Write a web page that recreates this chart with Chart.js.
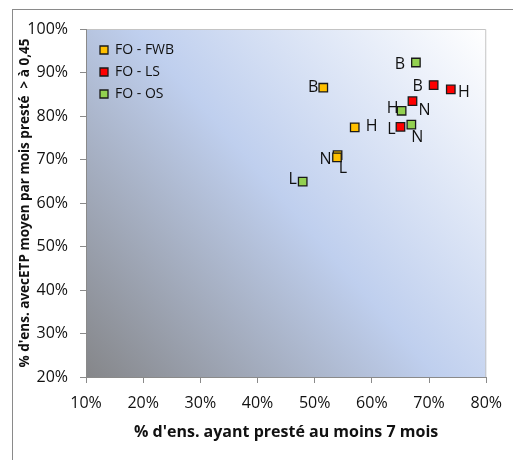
<!DOCTYPE html>
<html><head><meta charset="utf-8">
<script src="https://cdn.jsdelivr.net/npm/chart.js@4/dist/chart.umd.min.js"></script>
<style>
html,body{margin:0;padding:0;background:#fff;}
#wrap{position:relative;width:513px;height:460px;overflow:hidden;}
#frame{position:absolute;left:12px;top:9px;width:600px;height:600px;border-left:1px solid #8a8a8a;border-top:1px solid #8a8a8a;pointer-events:none;}
canvas{position:absolute;left:0;top:0;}
</style></head>
<body><div id="wrap"><canvas id="c" width="513" height="460"></canvas><div id="frame"></div></div>
<script>
// ---- data ----
const seriesNames = ['FO - FWB', 'FO - LS', 'FO - OS'];
const pointLetters = ['B', 'H', 'N', 'L'];
const fwbX = [51.5, 57.0, 54.0, 53.9];
const fwbY = [86.5, 77.4, 71.0, 70.5];
const lsX  = [70.8, 73.8, 67.1, 65.0];
const lsY  = [87.1, 86.1, 83.4, 77.5];
const osX  = [67.7, 65.2, 66.9, 47.9];
const osY  = [92.3, 81.2, 78.0, 64.9];
const xTicks = [10, 20, 30, 40, 50, 60, 70, 80];
const yTicks = [20, 30, 40, 50, 60, 70, 80, 90, 100];

// ---- styles ----
const colors = ['#FFC000', '#FF0000', '#92D050'];
// label offsets (px) relative to each marker, per series
const labelOffsets = [
  [[-10, 0], [17, -1], [-12, 4], [6, 11]],
  [[-16, 1], [13, 3], [12, 9], [-9, 3]],
  [[-16, 2], [-9, -2], [6, 13], [-10, -2]]
];
const FONT = "'Open Sans', sans-serif";

const xs = [fwbX, lsX, osX], ys = [fwbY, lsY, osY];
const datasets = seriesNames.map((name, s) => ({
  label: name,
  data: xs[s].map((x, i) => ({x: x, y: ys[s][i]})),
  backgroundColor: colors[s],
  borderColor: '#1a1a1a',
  borderWidth: 1.3,
  pointStyle: 'rect',
  pointRadius: 6,
  pointHoverRadius: 6
}));

const bgPlugin = {
  id: 'bg',
  beforeDraw(chart) {
    const {ctx, chartArea: a} = chart;
    const g = ctx.createLinearGradient(a.left, a.bottom, a.right, a.top);
    g.addColorStop(0, '#858689');
    g.addColorStop(0.5, '#bfcfee');
    g.addColorStop(1, '#ffffff');
    ctx.save();
    ctx.fillStyle = g;
    ctx.fillRect(a.left, a.top, a.right - a.left, a.bottom - a.top);
    ctx.strokeStyle = '#c4c4c4';
    ctx.lineWidth = 1;
    ctx.beginPath();
    ctx.moveTo(a.left, a.top + 0.5); ctx.lineTo(a.right - 0.5, a.top + 0.5); ctx.lineTo(a.right - 0.5, a.bottom);
    ctx.stroke();
    ctx.restore();
  }
};

const letterPlugin = {
  id: 'letters',
  afterDatasetsDraw(chart) {
    const ctx = chart.ctx;
    ctx.save();
    ctx.font = "16px " + FONT;
    ctx.fillStyle = '#111';
    ctx.textAlign = 'center';
    ctx.textBaseline = 'middle';
    chart.data.datasets.forEach((ds, s) => {
      chart.getDatasetMeta(s).data.forEach((el, i) => {
        const o = labelOffsets[s][i];
        ctx.fillText(pointLetters[i], el.x + o[0], el.y + o[1]);
      });
    });
    ctx.restore();
  }
};

// place the library legend inside the plot area, near its top-left corner
const legendPlace = {
  id: 'legendPlace',
  afterLayout(chart) {
    const lg = chart.legend, a = chart.chartArea;
    if (!lg) return;
    const w = lg.width, h = lg.height;
    lg.left = a.left + 6; lg.top = a.top + 6;
    lg.right = lg.left + w; lg.bottom = lg.top + h;
  }
};

new Chart(document.getElementById('c'), {
  type: 'scatter',
  data: {datasets},
  options: {
    responsive: false,
    devicePixelRatio: 1,
    animation: false,
    layout: {padding: {left: 0, top: 29, right: 25, bottom: 0}},
    plugins: {
      tooltip: {enabled: false},
      legend: {
        position: 'chartArea',
        align: 'start',
        labels: {
          font: {family: FONT, size: 14},
          color: '#111',
          boxWidth: 8,
          boxHeight: 8,
          padding: 8
        }
      }
    },
    scales: {
      x: {
        type: 'linear',
        min: 10, max: 80,
        afterFit(scale) { scale.height = 83; },
        afterBuildTicks(scale) { scale.ticks = xTicks.map(v => ({value: v})); },
        ticks: {
          callback: v => v + '%',
          font: {family: FONT, size: 16},
          color: '#111',
          padding: 11,
          maxRotation: 0
        },
        grid: {drawOnChartArea: false, drawTicks: true, tickLength: 6, color: '#8a8a8a'},
        border: {display: true, color: '#8a8a8a'},
        title: {
          display: true,
          text: "% d'ens. ayant presté au moins 7 mois",
          font: {family: FONT, size: 16, weight: 'bold'},
          color: '#111',
          padding: {bottom: 18}
        }
      },
      y: {
        type: 'linear',
        min: 20, max: 100,
        afterFit(scale) { scale.width = 86; },
        afterBuildTicks(scale) { scale.ticks = yTicks.map(v => ({value: v})); },
        ticks: {
          callback: v => v + '%',
          font: {family: FONT, size: 16},
          color: '#111',
          padding: 12
        },
        grid: {drawOnChartArea: false, drawTicks: true, tickLength: 6, color: '#8a8a8a'},
        border: {display: true, color: '#8a8a8a'},
        title: {
          display: true,
          text: "% d'ens. avecETP moyen par mois presté  > à 0,45",
          font: {family: FONT, size: 13.5, weight: 'bold'},
          color: '#111',
          padding: {top: 17}
        }
      }
    }
  },
  plugins: [bgPlugin, letterPlugin, legendPlace]
});
</script>
</body></html>
